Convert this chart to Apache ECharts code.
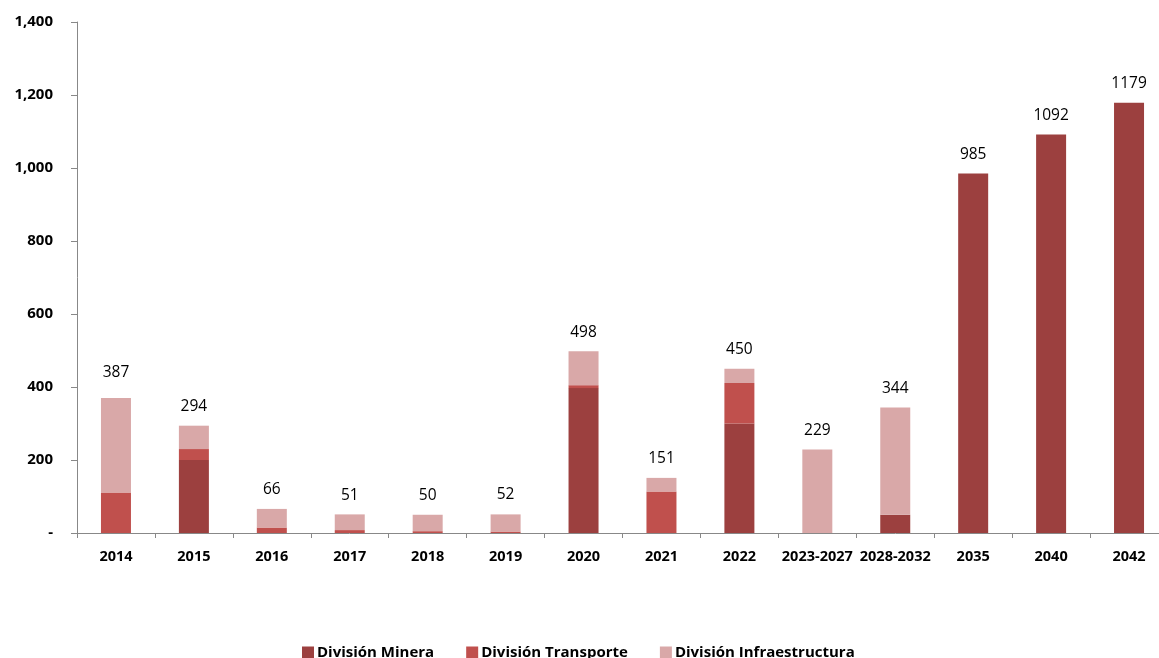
<!DOCTYPE html>
<html>
<head>
<meta charset="utf-8">
<script src="https://cdn.jsdelivr.net/npm/echarts@6/dist/echarts.min.js"></script>
<style>
html,body{margin:0;padding:0;background:#fff;overflow:hidden;width:1159px;height:658px;}
#chart{width:1168px;height:658px;}
</style>
</head>
<body>
<div id="chart"></div>
<script>
const categories = ['2014','2015','2016','2017','2018','2019','2020','2021','2022','2023-2027','2028-2032','2035','2040','2042'];
const minera = [0,200,0,0,0,0,397,0,300,0,50,985,1092,1179];
const transporte = [111,30,15,8,5,4,8,114,111,0,0,0,0,0];
const infraestructura = [259,64,51,43,45,47,93,37,39,229,294,0,0,0];
const totals = [387,294,66,51,50,52,498,151,450,229,344,985,1092,1179];
const seriesNames = ['División Minera','División Transporte','División Infraestructura'];
const yTicks = {min:0, max:1400, interval:200};

const chart = echarts.init(document.getElementById('chart'));
const font = '"Open Sans", sans-serif';
const barW = 30;
chart.setOption({
  animation:false,
  backgroundColor:'#fff',
  grid:{left:77, top:22, right:0, height:511, containLabel:false},
  legend:{
    data:seriesNames,
    top:640, left:297,
    itemWidth:12, itemHeight:12, itemGap:32,
    icon:'rect',
    textStyle:{fontFamily:font, fontWeight:'bold', fontSize:15, color:'#000', padding:[0,0,0,-2]}
  },
  xAxis:{
    type:'category', data:categories,
    axisLine:{lineStyle:{color:'#888', width:1}},
    axisTick:{show:true, length:5, lineStyle:{color:'#888'}},
    axisLabel:{fontFamily:font, fontWeight:'bold', fontSize:14.5, color:'#000', margin:16, interval:0}
  },
  yAxis:{
    type:'value', min:yTicks.min, max:yTicks.max, interval:yTicks.interval,
    axisLine:{show:true, lineStyle:{color:'#888', width:1}},
    axisTick:{show:true, length:6, lineStyle:{color:'#888'}},
    splitLine:{show:false},
    axisLabel:{fontFamily:font, fontWeight:'bold', fontSize:15, color:'#000', margin:24,
      formatter:v => v===0 ? '-' : v.toLocaleString('en-US')}
  },
  series:[
    {name:seriesNames[0], type:'bar', stack:'t', data:minera, barWidth:barW, itemStyle:{color:'#9C403F'}},
    {name:seriesNames[1], type:'bar', stack:'t', data:transporte, barWidth:barW, itemStyle:{color:'#C0504D'}},
    {name:seriesNames[2], type:'bar', stack:'t', data:infraestructura, barWidth:barW, itemStyle:{color:'#D9A8A8'}},
    {name:'Total', type:'bar', data:totals, barWidth:barW, barGap:'-100%', z:1,
      itemStyle:{color:'rgba(0,0,0,0)'}, silent:true,
      label:{show:true, position:'top', distance:11, fontFamily:font, fontSize:15.5, color:'#000'}}
  ]
});
</script>
</body>
</html>
